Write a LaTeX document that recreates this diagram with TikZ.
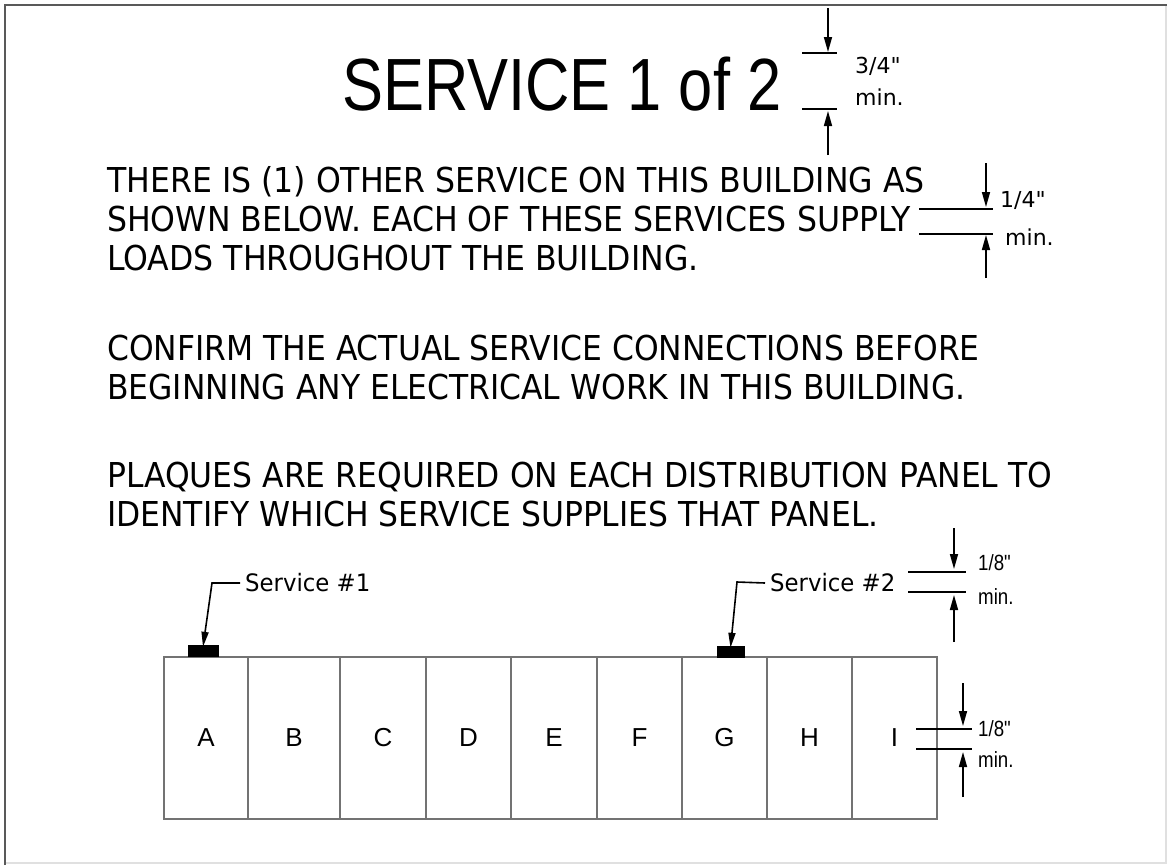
\documentclass[tikz,border=0pt]{standalone}
\usepackage{fontspec}
\setmainfont{DejaVu Sans}
\newfontfamily\arialf{Liberation Sans}
\newfontfamily\dejaf{DejaVu Sans}
\usetikzlibrary{arrows.meta}
\begin{document}
\begin{tikzpicture}[x=1pt,y=-1pt,
  body/.style={anchor=base west,inner sep=0pt,font=\fontsize{34.3}{40}\selectfont},
  dimtxt/.style={anchor=west,inner sep=0pt,font=\dejaf\fontsize{22}{24}\selectfont},
  dimtxtn/.style={anchor=west,inner sep=0pt,font=\arialf\fontsize{22}{24}\selectfont},
  dimarrow/.style={-{Triangle[length=15pt,width=8pt]},line width=1.6pt},
  tick/.style={line width=1.8pt},
  cell/.style={draw=black!55,line width=1.6pt,minimum height=162pt,inner sep=0pt,font=\arialf\fontsize{26}{28}\selectfont},
  plaque/.style={fill=black,draw=black,inner sep=0pt,minimum height=11pt},
  svc/.style={anchor=west,inner xsep=5pt,inner ysep=0pt,font=\fontsize{24}{26}\selectfont},
  leader/.style={line width=1.6pt,-{Triangle[length=15pt,width=7pt]}}
]
\useasboundingbox (0,0) rectangle (1167,865);
\fill[white] (0,0) rectangle (1167,865);
% border
\draw[black!12,line width=1.5pt] (5,5) rectangle (1166,863);
\draw[black!65,line width=2.5pt] (5,865) -- (5,5) -- (1167,5);

% title
\node[anchor=base west,inner sep=0pt,font=\arialf\fontsize{74}{80}\selectfont] (title) at (342,110) {\scalebox{0.83}[1]{SERVICE 1 of 2}};

% title dimension
\coordinate (t1) at (828,8); \coordinate (t1e) at (828,52);
\coordinate (t2) at (828,155); \coordinate (t2e) at (828,111);
\draw[dimarrow] (t1) -- (t1e);
\draw[dimarrow] (t2) -- (t2e);
\draw[tick] (802,53) -- (837,53);
\draw[tick] (802,109) -- (837,109);
\node[dimtxt] (t34) at (855,66) {3/4"};
\node[dimtxt] (tmin) at (855,97) {min.};

% body text
\node[body] (l1) at (107,192) {\scalebox{0.92}[1]{THERE IS (1) OTHER SERVICE ON THIS BUILDING AS}};
\node[body] (l2) at (107,231) {\scalebox{0.92}[1]{SHOWN BELOW. EACH OF THESE SERVICES SUPPLY}};
\node[body] (l3) at (107,270) {\scalebox{0.92}[1]{LOADS THROUGHOUT THE BUILDING.}};
\node[body] (l4) at (107,360) {\scalebox{0.915}[1]{CONFIRM THE ACTUAL SERVICE CONNECTIONS BEFORE}};
\node[body] (l5) at (107,399) {\scalebox{0.915}[1]{BEGINNING ANY ELECTRICAL WORK IN THIS BUILDING.}};
\node[body] (l6) at (107,487) {\scalebox{0.915}[1]{PLAQUES ARE REQUIRED ON EACH DISTRIBUTION PANEL TO}};
\node[body] (l7) at (107,526) {\scalebox{0.915}[1]{IDENTIFY WHICH SERVICE SUPPLIES THAT PANEL.}};

% 1/4" dimension
\coordinate (q1) at (986,163); \coordinate (q1e) at (986,207);
\coordinate (q2) at (986,278); \coordinate (q2e) at (986,235);
\draw[dimarrow] (q1) -- (q1e);
\draw[dimarrow] (q2) -- (q2e);
\draw[tick] (919,209) -- (993,209);
\draw[tick] (919,234) -- (993,234);
\node[dimtxt] (q14) at (1000,200) {1/4"};
\node[dimtxt] (qmin) at (1005,237) {min.};

% panel cells
\node[cell,minimum width=84pt] (cA) at (206,738) {A};
\node[cell,minimum width=92pt] (cB) at (294,738) {B};
\node[cell,minimum width=86pt] (cC) at (383,738) {C};
\node[cell,minimum width=85pt] (cD) at (468.5,738) {D};
\node[cell,minimum width=86pt] (cE) at (554,738) {E};
\node[cell,minimum width=85pt] (cF) at (639.5,738) {F};
\node[cell,minimum width=85pt] (cG) at (724.5,738) {G};
\node[cell,minimum width=85pt] (cH) at (809.5,738) {H};
\node[cell,minimum width=85pt] (cI) at (894.5,738) {I};

% plaques
\node[plaque,minimum width=30pt] (p1) at (203,650.5) {};
\node[plaque,minimum width=27pt] (p2) at (730.5,651.5) {};

% service labels and leaders
\node[svc] (s1) at (240,583) {\scalebox{0.95}[1]{Service \#1}};
\node[svc] (s2) at (765,583) {\scalebox{0.95}[1]{Service \#2}};
\coordinate (b1) at (212,583);
\coordinate (b2) at (737,582);
\draw[leader] (s1.west) -- (b1) -- ([yshift=-2pt]p1.north);
\draw[leader] (s2.west) -- (b2) -- ([yshift=-2pt]p2.north);

% 1/8" dimension (service)
\coordinate (e1) at (954,528); \coordinate (e1e) at (954,569);
\coordinate (e2) at (954,642); \coordinate (e2e) at (954,595);
\draw[dimarrow] (e1) -- (e1e);
\draw[dimarrow] (e2) -- (e2e);
\draw[tick] (908,572) -- (966,572);
\draw[tick] (908,592) -- (966,592);
\node[dimtxtn] (e18) at (978,563) {\scalebox{0.85}[1]{1/8"}};
\node[dimtxtn] (emin) at (978,597) {\scalebox{0.85}[1]{min.}};

% 1/8" dimension (panel)
\coordinate (f1) at (963,683); \coordinate (f1e) at (963,726);
\coordinate (f2) at (963,797); \coordinate (f2e) at (963,752);
\draw[dimarrow] (f1) -- (f1e);
\draw[dimarrow] (f2) -- (f2e);
\draw[tick] (916,729) -- (972,729);
\draw[tick] (916,749) -- (972,749);
\node[dimtxtn] (f18) at (978,729) {\scalebox{0.85}[1]{1/8"}};
\node[dimtxtn] (fmin) at (978,760) {\scalebox{0.85}[1]{min.}};
\end{tikzpicture}
\end{document}
